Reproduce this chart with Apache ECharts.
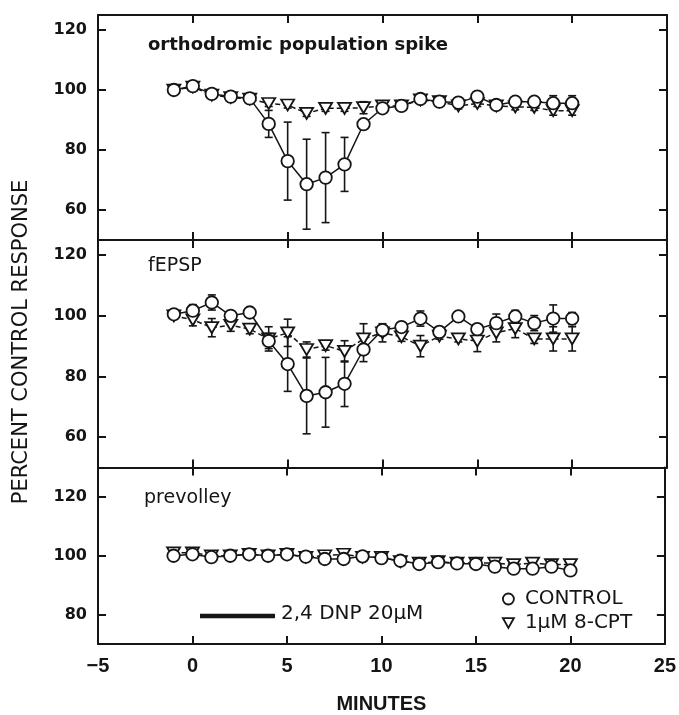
<!DOCTYPE html>
<html>
<head>
<meta charset="utf-8">
<script src="https://cdn.jsdelivr.net/npm/echarts@6/dist/echarts.min.js"></script>
<style>html,body{margin:0;padding:0;background:#fff}#c{width:679px;height:715px}</style>
</head>
<body>
<div id="c"></div>
<script>
// ---- data ----
const minutes = [-1, 0, 1, 2, 3, 4, 5, 6, 7, 8, 9, 10, 11, 12, 13, 14, 15, 16, 17, 18, 19, 20];

const spikeControl    = [100, 101.3, 98.7, 97.8, 97.2, 88.7, 76.3, 68.6, 70.8, 75.2, 88.6, 93.9, 94.7, 97, 96.1, 95.8, 97.8, 95, 96.1, 96.1, 95.6, 95.6];
const spikeControlErr = [0.5, 0.5, 0.5, 0.5, 0.5, 4.5, 13, 15, 15, 9, 1.5, 1, 1, 1, 1, 1, 1, 1, 1.5, 1.5, 2.5, 2.5];
const spikeCPT        = [100, 101, 98.3, 97.5, 97, 95.5, 95, 92.2, 93.9, 93.9, 94.1, 94.7, 94.7, 96.7, 96.1, 94.7, 95.5, 94.7, 94.4, 94.2, 93.1, 93.1];
const spikeCPTErr     = [0.5, 0.5, 0.5, 0.5, 0.5, 1, 1, 1, 1, 1, 2, 1, 1, 1, 1, 1, 1, 1, 1, 1, 1.5, 1.5];

const fepspControl    = [100.5, 101.7, 104.4, 100, 101.1, 91.7, 84.1, 73.6, 74.8, 77.6, 88.9, 95.3, 96.3, 99.1, 94.7, 99.8, 95.6, 97.6, 99.8, 97.6, 99.1, 99.1];
const fepspControlErr = [0.5, 2, 2.5, 1, 0.5, 2.5, 9, 12.5, 11.5, 7.5, 4, 1, 1, 2.5, 1, 1, 1, 3, 2, 2.5, 4.5, 2];
const fepspCPT        = [100, 98.7, 96.1, 96.9, 95.6, 92.4, 94.4, 88.9, 90.2, 88.3, 92.4, 94.4, 93.1, 90, 93.3, 92.4, 91.7, 94.4, 95.8, 92.4, 92.4, 92.4];
const fepspCPTErr     = [0.5, 2, 3, 2, 1.5, 4, 4.5, 2.5, 1.5, 3.5, 5, 3, 1.5, 3.5, 1, 1, 3.5, 3, 3, 1.5, 4, 4];

const prevolleyControl    = [100, 100.5, 99.5, 100, 100.5, 100, 100.5, 99.7, 98.9, 98.9, 99.8, 99.2, 98.3, 97.2, 97.8, 97.4, 97.2, 96.3, 95.6, 95.6, 96.3, 95];
const prevolleyControlErr = [0, 0, 0, 0, 0, 0, 0, 0, 0.5, 0.5, 0, 0, 0, 0, 0, 0, 0, 0.5, 0.5, 0.5, 0.5, 0.5];
const prevolleyCPT        = [101, 101, 100, 100, 100.5, 100, 100.5, 99.5, 100, 100.5, 99.5, 99.5, 98, 97.5, 98, 97.5, 97.5, 97.5, 97, 97.5, 97, 97];
const prevolleyCPTErr     = [0, 0, 0, 0, 0, 0, 0, 0, 1, 1, 0, 1, 0, 0, 0, 0, 0, 1, 1, 1, 1, 1];

const panelLabels = ['orthodromic population spike', 'fEPSP', 'prevolley'];
const yRanges = [[50, 125], [50, 125], [70, 130]];
const yTicks = [[60, 80, 100, 120], [60, 80, 100, 120], [80, 100, 120]];
const xTickLabels = [-5, 0, 5, 10, 15, 20, 25];
const seriesNames = ['CONTROL', '1\u03BCM 8-CPT'];
const drugLabel = '2,4 DNP 20\u03BCM';
const yTitle = 'PERCENT CONTROL RESPONSE';
const xTitle = 'MINUTES';

// ---- layout ----
const INK = '#151515';
const gridsPx = [
  { left: 98, right: 12, top: 15, height: 225 },
  { left: 98, right: 12, top: 240, height: 227.5 },
  { left: 98, right: 12, top: 467.5, height: 180 }
];
const panels = [
  [spikeControl, spikeControlErr, spikeCPT, spikeCPTErr],
  [fepspControl, fepspControlErr, fepspCPT, fepspCPTErr],
  [prevolleyControl, prevolleyControlErr, prevolleyCPT, prevolleyCPTErr]
];

function errBar(params, api) {
  const x = api.value(0), y = api.value(1), e = api.value(2);
  if (!e) return null;
  const t = api.coord([x, y + e]);
  const b = api.coord([x, y - e]);
  const w = 4;
  const st = { stroke: INK, lineWidth: 1.6 };
  return {
    type: 'group',
    children: [
      { type: 'line', shape: { x1: t[0], y1: t[1], x2: b[0], y2: b[1] }, style: st },
      { type: 'line', shape: { x1: t[0] - w, y1: t[1], x2: t[0] + w, y2: t[1] }, style: st },
      { type: 'line', shape: { x1: b[0] - w, y1: b[1], x2: b[0] + w, y2: b[1] }, style: st }
    ]
  };
}

const xAxes = [], yAxes = [], series = [], titles = [];
const axisLine = { show: true, onZero: false, lineStyle: { color: INK, width: 2 } };
gridsPx.forEach((g, i) => {
  const last = i === gridsPx.length - 1;
  xAxes.push({
    type: 'value', gridIndex: i, position: 'bottom', min: -5, max: 25, interval: 5,
    axisLine, splitLine: { show: false },
    axisTick: { show: true, inside: true, length: 8, lineStyle: { color: INK, width: 2 } },
    axisLabel: { show: last, margin: 12, color: INK, fontFamily: 'Liberation Sans', fontWeight: 'bold', fontSize: 20,
      formatter: v => xTickLabels.indexOf(v) >= 0 ? String(v).replace('-', '\u2212') : '' },
    name: last ? xTitle : '', nameLocation: 'middle', nameGap: 50,
    nameTextStyle: { color: INK, fontFamily: 'Liberation Sans', fontWeight: 'bold', fontSize: 20 }
  });
  xAxes.push({
    type: 'value', gridIndex: i, position: 'top', min: -5, max: 25, interval: 5,
    axisLine, splitLine: { show: false },
    axisTick: { show: true, inside: true, length: 8, lineStyle: { color: INK, width: 2 } },
    axisLabel: { show: false }
  });
  const [ymin, ymax] = yRanges[i];
  yAxes.push({
    type: 'value', gridIndex: i, position: 'left', min: ymin, max: ymax,
    axisLine, splitLine: { show: false },
    axisTick: { show: true, inside: true, length: 8, customValues: yTicks[i], lineStyle: { color: INK, width: 2 } },
    axisLabel: { show: true, margin: 11, color: INK, fontFamily: 'DejaVu Sans', fontWeight: 'bold', fontSize: 16,
      customValues: yTicks[i] }
  });
  yAxes.push({
    type: 'value', gridIndex: i, position: 'right', min: ymin, max: ymax,
    axisLine, splitLine: { show: false },
    axisTick: { show: true, inside: true, length: 8, customValues: yTicks[i], lineStyle: { color: INK, width: 2 } },
    axisLabel: { show: false }
  });

  const [c, ce, p, pe] = panels[i];
  const xi = i * 2, yi = i * 2;
  series.push({
    type: 'custom', xAxisIndex: xi, yAxisIndex: yi, renderItem: errBar, silent: true, z: 2,
    data: minutes.map((m, k) => [m, c[k], ce[k]])
  });
  series.push({
    type: 'custom', xAxisIndex: xi, yAxisIndex: yi, renderItem: errBar, silent: true, z: 2,
    data: minutes.map((m, k) => [m, p[k], pe[k]])
  });
  series.push({
    type: 'line', name: seriesNames[1], xAxisIndex: xi, yAxisIndex: yi, z: 3,
    data: minutes.map((m, k) => [m, p[k]]),
    symbol: 'triangle', symbolRotate: 180, symbolSize: [13, 11],
    itemStyle: { color: '#fff', borderColor: INK, borderWidth: 1.8 },
    lineStyle: { color: INK, width: 1.5, type: [5, 3] }
  });
  series.push({
    type: 'line', name: seriesNames[0], xAxisIndex: xi, yAxisIndex: yi, z: 4,
    data: minutes.map((m, k) => [m, c[k]]),
    symbol: 'circle', symbolSize: 12.5,
    itemStyle: { color: '#fff', borderColor: INK, borderWidth: 1.8 },
    lineStyle: { color: INK, width: 1.5 }
  });
});

titles.push({ text: panelLabels[0], left: 143, top: 31,
  textStyle: { color: INK, fontFamily: 'DejaVu Sans', fontWeight: 'bold', fontSize: 18 } });
titles.push({ text: panelLabels[1], left: 143, top: 252,
  textStyle: { color: INK, fontFamily: 'DejaVu Sans', fontWeight: 'normal', fontSize: 19 } });
titles.push({ text: panelLabels[2], left: 139, top: 484,
  textStyle: { color: INK, fontFamily: 'DejaVu Sans', fontWeight: 'normal', fontSize: 19 } });

const chart = echarts.init(document.getElementById('c'), null, { renderer: 'canvas' });
chart.setOption({
  animation: false,
  backgroundColor: '#fff',
  title: titles,
  grid: gridsPx,
  xAxis: xAxes,
  yAxis: yAxes,
  series: series,
  legend: {
    orient: 'vertical', left: 497, top: 584, itemGap: 4, itemWidth: 11, itemHeight: 11,
    selectedMode: false,
    data: [
      { name: seriesNames[0], icon: 'circle' },
      { name: seriesNames[1], icon: 'path://M0,0 L10,0 L5,9 Z' }
    ],
    itemStyle: { color: '#fff', borderColor: INK, borderWidth: 1.8 },
    textStyle: { color: INK, fontFamily: 'DejaVu Sans', fontSize: 20, padding: [0, 0, 0, 6] }
  },
  graphic: [
    { type: 'line', shape: { x1: 200, y1: 616, x2: 275, y2: 616 }, style: { stroke: INK, lineWidth: 4.5 } },
    { type: 'text', left: 281, top: 604, style: { text: drugLabel, fill: INK, font: '20px "DejaVu Sans"' } },
    { type: 'text', x: 22, y: 342, rotation: Math.PI / 2,
      style: { text: yTitle, fill: INK, font: '21px "DejaVu Sans"', align: 'center', verticalAlign: 'middle' } }
  ]
});
</script>
</body>
</html>
